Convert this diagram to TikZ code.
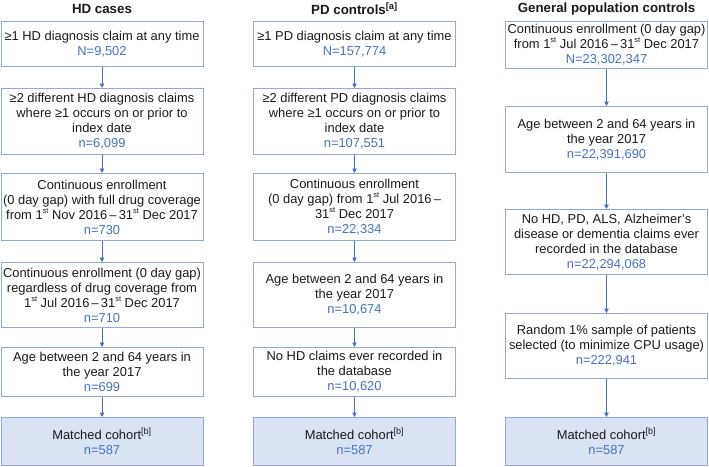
\documentclass[tikz,border=0pt]{standalone}
\usepackage{fontspec}
\setmainfont{Liberation Sans}
\usetikzlibrary{arrows.meta}
\definecolor{numblue}{HTML}{4472C4}
\definecolor{boxedge}{HTML}{8FAADC}
\definecolor{boxfill}{HTML}{DAE3F3}
\definecolor{ink}{HTML}{1A1A1A}
\newcommand{\nval}[1]{\textcolor{numblue}{#1}}
\newcommand{\st}{\raisebox{0.45em}{\fontsize{7.5}{8}\selectfont st}}

\begin{document}
\begin{tikzpicture}[x=1pt,y=-1pt,
  stage/.style={draw=boxedge, line width=0.8pt, minimum width=202pt, anchor=north,
    align=center, inner sep=0pt, text=ink, font=\fontsize{12.9}{15}\selectfont},
  final/.style={stage, fill=boxfill},
  head/.style={text=ink, font=\fontsize{13.3}{15}\selectfont\bfseries},
  flow/.style={numblue, line width=0.8pt, -{Triangle[width=4.5pt,length=4.5pt]}}]
\useasboundingbox (0,0) rectangle (709,466);
\node[head] (Thd) at (102,9) {HD cases};
\node[head] (Tpd) at (354.5,9) {PD controls\textsuperscript{[a]}};
\node[head] (Tgp) at (606.5,9) {General population controls};

\node[stage, minimum height=45pt] (H1) at (102,21) {≥1 HD diagnosis claim at any time\\ \nval{N=9,502}};
\node[stage, minimum height=66pt] (H2) at (102,88) {≥2 different HD diagnosis claims\\ where ≥1 occurs on or prior to\\ index date\\ \nval{n=6,099}};
\node[stage, minimum height=67pt] (H3) at (102,173) {Continuous enrollment\\ (0 day gap) with full drug coverage\\ from 1\st\ Nov 2016\,–\,31\st\ Dec 2017\\ \nval{n=730}};
\node[stage, minimum height=65pt] (H4) at (102,262) {Continuous enrollment (0 day gap)\\ regardless of drug coverage from\\ 1\st\ Jul 2016\,–\,31\st\ Dec 2017\\ \nval{n=710}};
\node[stage, minimum height=49pt] (H5) at (102,347) {Age between 2 and 64 years in\\ the year 2017\\ \nval{n=699}};
\node[final, minimum height=48pt] (H6) at (102,417) {Matched cohort\textsuperscript{[b]}\\ \nval{n=587}};

\node[stage, minimum height=45pt] (P1) at (354.5,21) {≥1 PD diagnosis claim at any time\\ \nval{N=157,774}};
\node[stage, minimum height=66pt] (P2) at (354.5,88) {≥2 different PD diagnosis claims\\ where ≥1 occurs on or prior to\\ index date\\ \nval{n=107,551}};
\node[stage, minimum height=67pt] (P3) at (354.5,173) {Continuous enrollment\\ (0 day gap) from 1\st\ Jul 2016\,–\\ 31\st\ Dec 2017\\ \nval{n=22,334}};
\node[stage, minimum height=65pt] (P4) at (354.5,262) {Age between 2 and 64 years in\\ the year 2017\\ \nval{n=10,674}};
\node[stage, minimum height=49pt] (P5) at (354.5,347) {No HD claims ever recorded in\\ the database\\ \nval{n=10,620}};
\node[final, minimum height=48pt] (P6) at (354.5,417) {Matched cohort\textsuperscript{[b]}\\ \nval{n=587}};

\node[stage, minimum height=47pt] (G1) at (606.5,21) {Continuous enrollment (0 day gap)\\ from 1\st\ Jul 2016\,–\,31\st\ Dec 2017\\ \nval{N=23,302,347}};
\node[stage, minimum height=66pt] (G2) at (606.5,106) {Age between 2 and 64 years in\\ the year 2017\\ \nval{n=22,391,690}};
\node[stage, minimum height=65pt] (G3) at (606.5,209) {No HD, PD, ALS, Alzheimer’s\\ disease or dementia claims ever\\ recorded in the database\\ \nval{n=22,294,068}};
\node[stage, minimum height=65pt] (G4) at (606.5,313) {Random 1\% sample of patients\\ selected (to minimize CPU usage)\\ \nval{n=222,941}};
\node[final, minimum height=48pt] (G5) at (606.5,417) {Matched cohort\textsuperscript{[b]}\\ \nval{n=587}};

\foreach \a/\b in {H1/H2,H2/H3,H3/H4,H4/H5,H5/H6,P1/P2,P2/P3,P3/P4,P4/P5,P5/P6,G1/G2,G2/G3,G3/G4,G4/G5}
  \draw[flow] (\a) -- (\b);
\end{tikzpicture}
\end{document}
